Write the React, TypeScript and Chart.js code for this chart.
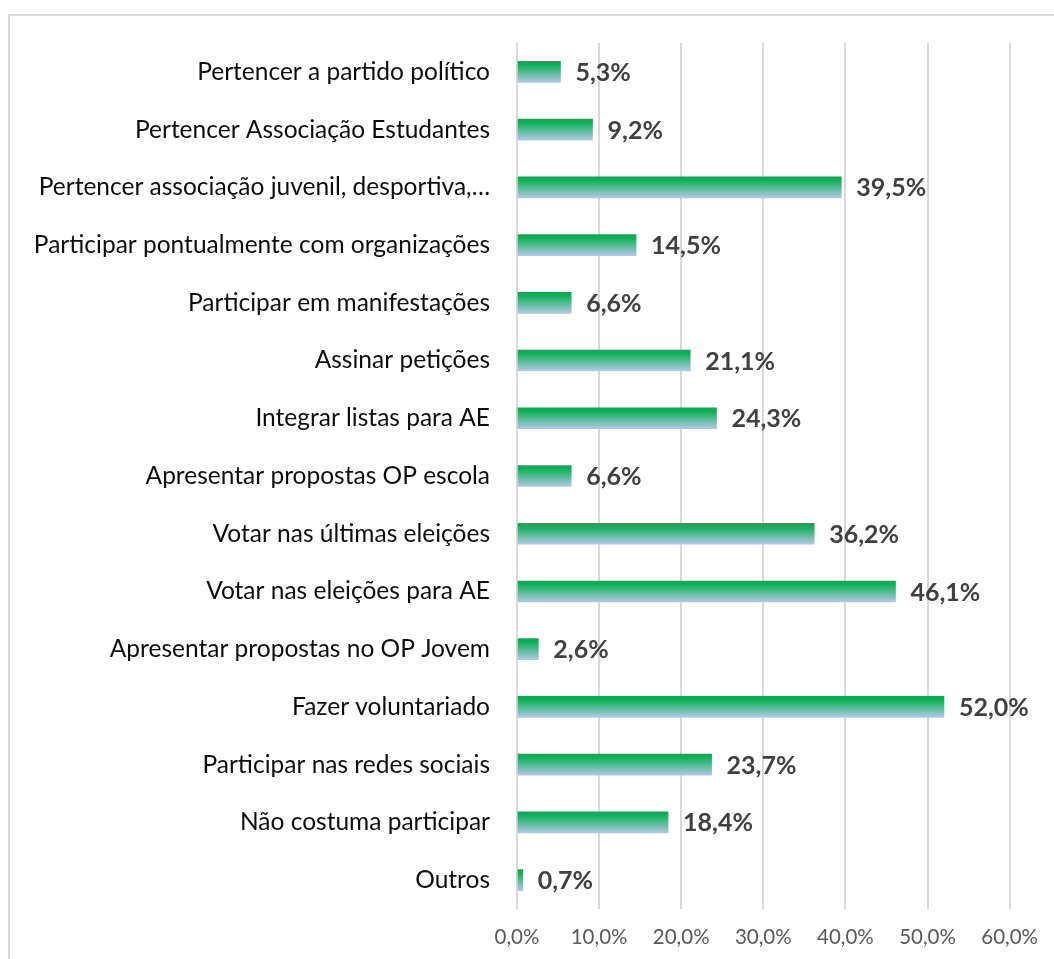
import React, { useEffect, useRef } from "react";
import { Chart, registerables } from "chart.js";

Chart.register(...registerables);

const categories = [
  "Pertencer a partido político",
  "Pertencer Associação Estudantes",
  "Pertencer associação juvenil, desportiva,…",
  "Participar pontualmente com organizações",
  "Participar em manifestações",
  "Assinar petições",
  "Integrar listas para AE",
  "Apresentar propostas OP escola",
  "Votar nas últimas eleições",
  "Votar nas eleições para AE",
  "Apresentar propostas no OP Jovem",
  "Fazer voluntariado",
  "Participar nas redes sociais",
  "Não costuma participar",
  "Outros",
];

const values = [5.3, 9.2, 39.5, 14.5, 6.6, 21.1, 24.3, 6.6, 36.2, 46.1, 2.6, 52.0, 23.7, 18.4, 0.7];

const xTicks = [0, 10, 20, 30, 40, 50, 60];

const FONT = "Lato, 'Open Sans', sans-serif";
const BAR_T = 21;

const fmt = (v: number) => v.toFixed(1).replace(".", ",") + "%";

const labelPlugin = {
  id: "valueLabels",
  afterDatasetsDraw(chart: any) {
    const { ctx } = chart;
    const meta = chart.getDatasetMeta(0);
    ctx.save();
    ctx.font = `bold 25px ${FONT}`;
    ctx.fillStyle = "#404040";
    ctx.textAlign = "left";
    ctx.textBaseline = "middle";
    meta.data.forEach((el: any, i: number) => {
      ctx.fillText(fmt(values[i]), el.x + 15, el.y + 1);
    });
    ctx.restore();
  },
};

export default function App() {
  const ref = useRef<HTMLCanvasElement>(null);
  useEffect(() => {
    if (!ref.current) return;
    const chart = new Chart(ref.current, {
      type: "bar",
      data: {
        labels: categories,
        datasets: [
          {
            data: values,
            barThickness: BAR_T,
            backgroundColor: (c: any) => {
              const ch = c.chart;
              const ys = ch.scales && ch.scales.y;
              if (!ys || !ch.chartArea || c.dataIndex === undefined) return "#00b050";
              const yc = ys.getPixelForValue(c.dataIndex);
              const g = ch.ctx.createLinearGradient(0, yc - BAR_T / 2, 0, yc + BAR_T / 2);
              g.addColorStop(0, "#00b050");
              g.addColorStop(0.15, "#0cb055");
              g.addColorStop(1, "#b4c7e7");
              return g;
            },
            borderWidth: 0,
          },
        ],
      },
      options: {
        indexAxis: "y",
        animation: false,
        responsive: false,
        maintainAspectRatio: false,
        layout: { padding: { left: 0, right: 44, top: 43, bottom: 0 } },
        plugins: { legend: { display: false }, tooltip: { enabled: false } },
        scales: {
          x: {
            min: 0,
            max: 60,
            afterBuildTicks: (axis: any) => {
              axis.ticks = xTicks.map((v) => ({ value: v }));
            },
            afterFit: (axis: any) => {
              axis.height = 50;
            },
            grid: { color: "#d9d9d9", lineWidth: 2, drawTicks: false },
            border: { display: false },
            ticks: {
              padding: 16,
              color: "#595959",
              font: { family: FONT, size: 20.5 },
              callback: (v: any) => fmt(Number(v)),
            },
          },
          y: {
            afterFit: (axis: any) => {
              axis.width = 517;
            },
            grid: { display: false, drawTicks: false },
            border: { display: false },
            ticks: {
              padding: 27,
              color: "#0d0d0d",
              font: { family: FONT, size: 24.5 },
              autoSkip: false,
            },
          },
        },
      },
      plugins: [labelPlugin],
    });
    return () => chart.destroy();
  }, []);

  return (
    <div style={{ position: "fixed", left: 0, top: 0, width: 1054, height: 959, overflow: "hidden", background: "#fff" }}>
      <div
        style={{
          position: "absolute",
          left: 8,
          top: 14,
          width: 1100,
          height: 1000,
          border: "2px solid #d9d9d9",
          boxSizing: "border-box",
        }}
      />
      <canvas ref={ref} width={1054} height={959} style={{ position: "absolute", left: 0, top: 0, width: 1054, height: 959 }} />
    </div>
  );
}
